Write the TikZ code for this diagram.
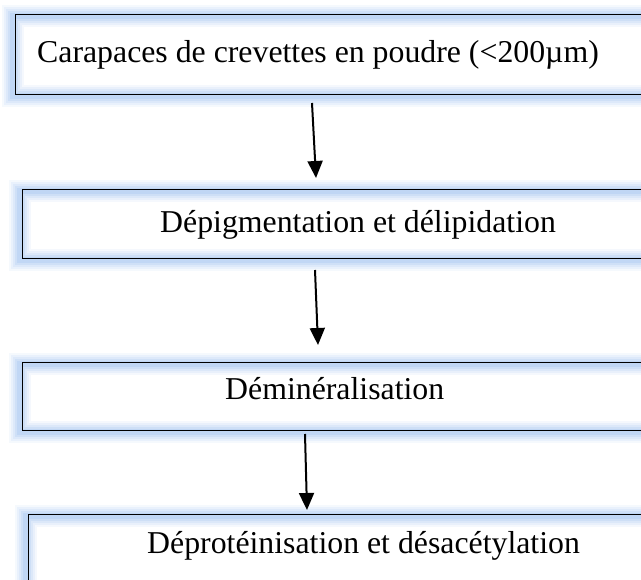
\documentclass[tikz,border=0pt]{standalone}
\usepackage{fontspec}
\setmainfont{Liberation Serif}
\usetikzlibrary{arrows.meta}
\definecolor{glowc}{RGB}{130,175,235}
\begin{document}
\begin{tikzpicture}[x=1pt,y=-1pt,
  stepbox/.style={rectangle, fill=white, draw=none, inner sep=0pt, anchor=north west},
  steptext/.style={font=\fontsize{31.8}{36}\selectfont, inner sep=0pt, anchor=base west},
  frame/.style={draw=black, line width=0.8pt},
  flow/.style={-{Triangle[length=17pt,width=15pt]}, line width=2pt}]
\useasboundingbox (0,0) rectangle (641,580);
\clip (0,0) rectangle (641,580);

% soft blue halo along a box outline, then the thin black frame
\newcommand\haloframe[1]{%
  \foreach \w/\o in {22/0.08,18/0.10,14/0.12,10/0.15,6/0.18}
    \draw[glowc, line width=\w pt, opacity=\o]
      ([shift={(-2,2)}]#1.north west) rectangle ([shift={(-2,2)}]#1.south east);
  \draw[frame] (#1.north west) rectangle (#1.south east);}

% boxes
\node[stepbox, minimum width=650pt, minimum height=80pt] (b1) at (15,14) {};
\node[stepbox, minimum width=650pt, minimum height=69pt] (b2) at (22,189) {};
\node[stepbox, minimum width=650pt, minimum height=68pt] (b3) at (22,362) {};
\node[stepbox, minimum width=650pt, minimum height=90pt] (b4) at (28,514) {};
\haloframe{b1}
\haloframe{b2}
\haloframe{b3}
\haloframe{b4}

% labels
\node[steptext] (t1) at (37,63) {Carapaces de crevettes en poudre (<200µm)};
\node[steptext] (t2) at (160,233) {Dépigmentation et délipidation};
\node[steptext] (t3) at (225,400) {Déminéralisation};
\node[steptext] (t4) at (147,554) {Déprotéinisation et désacétylation};

% arrow ends
\coordinate (a1s) at (312,103);
\coordinate (a1e) at (316,178);
\coordinate (a2s) at (315,270);
\coordinate (a2e) at (318,345);
\coordinate (a3s) at (305,434);
\coordinate (a3e) at (307,510);

\draw[flow] (a1s) -- (a1e);
\draw[flow] (a2s) -- (a2e);
\draw[flow] (a3s) -- (a3e);
\end{tikzpicture}
\end{document}
